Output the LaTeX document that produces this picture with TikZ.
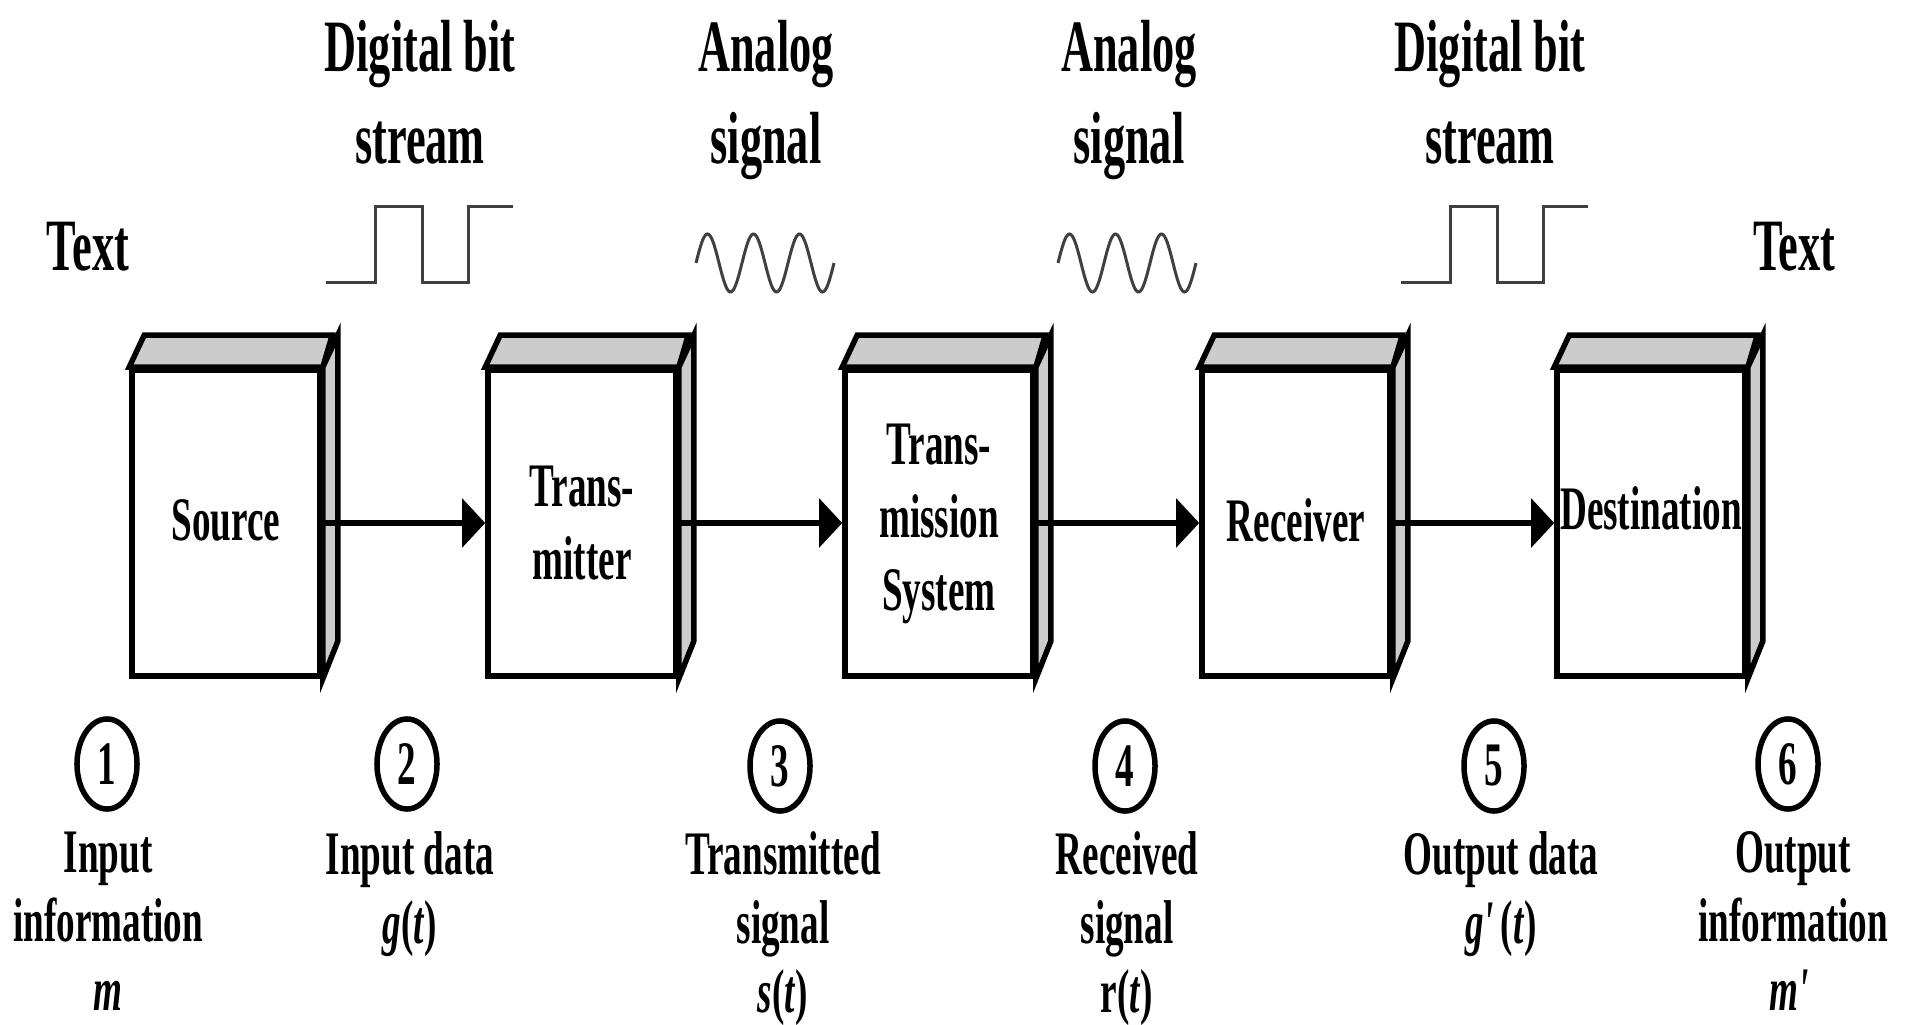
\documentclass[tikz,border=0pt]{standalone}
\usepackage{fontspec}
\setmainfont{Liberation Serif}[FakeStretch=0.6]
\usepackage{tikz}
\usetikzlibrary{shapes.geometric,arrows.meta}
\definecolor{facegray}{gray}{0.8}
\definecolor{wavegray}{gray}{0.25}

\begin{document}
\begin{tikzpicture}[x=0.01cm, y=-0.01cm,
		box/.style={draw, line width=0.055cm, fill=white, minimum width=1.88cm, minimum height=3.06cm, inner sep=0pt, align=center, font=\fontsize{17.6}{20.8}\selectfont\bfseries},
		face/.style={draw, line width=0.055cm, fill=facegray},
		flow/.style={line width=0.06cm, -{Triangle[length=0.23cm, width=0.48cm]}},
		numcirc/.style={ellipse, draw, line width=0.055cm, minimum width=0.6cm, minimum height=0.9cm, inner sep=0pt, font=\fontsize{17.6}{20.8}\selectfont\bfseries},
		head/.style={anchor=north, align=center, inner sep=0pt, font=\fontsize{21}{25.9}\selectfont\bfseries},
		tag/.style={anchor=north, align=center, inner sep=0pt, font=\fontsize{17.6}{19.6}\selectfont\bfseries},
		wave/.style={line width=0.03cm, wavegray}]
				\useasboundingbox (0,0) rectangle (1907,1025);

				% headings
				\node[head] (hd1) at (420, 20) {Digital bit\\stream};
				\node[head] (hd2) at (766, 20) {Analog\\signal};
				\node[head] (hd3) at (1129, 20) {Analog\\signal};
				\node[head] (hd4) at (1490, 20) {Digital bit\\stream};
				\node[head, anchor=center] (txtin) at (88, 247) {Text};
				\node[head, anchor=center] (txtout) at (1794, 247) {Text};

				% waveforms
				\foreach \sx in {0, 1075} {
					\draw[wave, xshift=\sx*0.01cm] (326, 283) -- (375, 283) -- (375, 207) -- (422, 207) -- (422, 283) -- (468, 283) -- (468, 207) -- (513, 207);
				}
				\draw[wave] plot[domain=0:3, samples=120, smooth] ({696 + 46*\x}, {263 - 29*sin(360*\x)});
				\draw[wave] plot[domain=0:3, samples=120, smooth] ({1058 + 46*\x}, {263 - 29*sin(360*\x)});

				% blocks
				\node[box] (src) at (226, 523) {\raisebox{1.5pt}{Source}};
				\node[box] (tx) at (582, 523) {Trans-\\mitter};
				\node[box] (sys) at (939, 523) {\raisebox{-1pt}{\begin{tabular}{@{}c@{}}Trans-\\mission\\System\end{tabular}}};
				\node[box] (rx) at (1296, 523) {\raisebox{1.5pt}{Receiver}};
				\node[box] (dst) at (1651, 523) {\raisebox{8.5pt}{Destination}};

				\foreach \b in {src, tx, sys, rx, dst} {
					\draw[face] (\b.north west) -- ++(15, -32) -- ++(188, 0) -- (\b.north east) -- cycle;
					\draw[face] (\b.north east) -- ++(15, -32) -- ++(0, 306) -- (\b.south east) -- cycle;
				}

				\draw[flow] (src.east) -- (tx.west);
				\draw[flow] (tx.east) -- (sys.west);
				\draw[flow] (sys.east) -- (rx.west);
				\draw[flow] (rx.east) -- (dst.west);

				% numbered points
				\node[numcirc] (c1) at (107, 764) {1};
				\node[numcirc] (c2) at (407, 764) {2};
				\node[numcirc] (c3) at (780, 766) {3};
				\node[numcirc] (c4) at (1125, 766) {4};
				\node[numcirc] (c5) at (1494, 766) {5};
				\node[numcirc] (c6) at (1788, 764) {6};

				\node[tag] (l1) at (108, 831) {Input\\information\\\textit{m}};
				\node[tag] (l2) at (410, 831) {Input data\\\textit{g}(\textit{t})};
				\node[tag] (l3) at (783, 831) {Transmitted\\signal\\\textit{s}(\textit{t})};
				\node[tag] (l4) at (1127, 831) {Received\\signal\\r(\textit{t})};
				\node[tag] (l5) at (1501, 831) {Output data\\\textit{g\textquotesingle}(\textit{t})};
				\node[tag] (l6) at (1793, 831) {Output\\information\\\textit{m\textquotesingle}};
\end{tikzpicture}
\end{document}
